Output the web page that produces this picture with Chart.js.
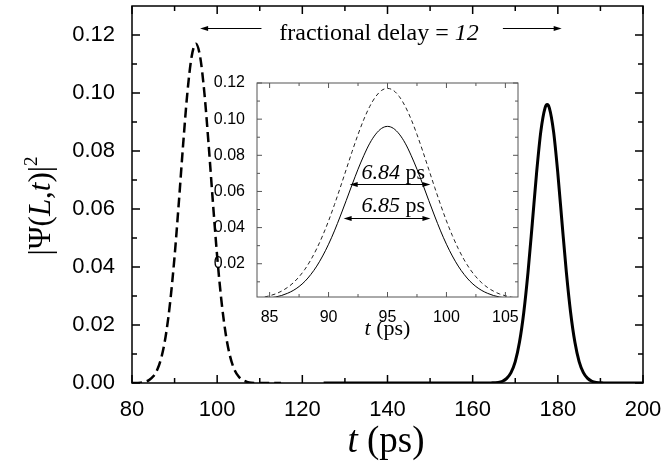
<!DOCTYPE html>
<html>
<head>
  <title>Fractional delay pulses</title>
  <script src="https://cdn.jsdelivr.net/npm/chart.js"></script>
  <style>
    body { margin: 0; background: #fff; }
    #wrap { position: relative; width: 663px; height: 464px; }
    #mainBox { position: absolute; left: 0; top: 0; width: 663px; height: 464px; }
    #insetBox { position: absolute; left: 200px; top: 70px; width: 330px; height: 280px; }
  </style>
</head>
<body>
<div id="wrap">
  <div id="mainBox"><canvas id="mainChart"></canvas></div>
  <div id="insetBox"><canvas id="insetChart"></canvas></div>
</div>

<script>
  // main panel: input pulse (dashed) and delayed output pulse (solid)
  const inputT = [80, 82, 83, 84, 85, 86, 87, 88, 89, 90, 91, 92, 93, 94, 95, 96, 97, 98, 99, 100,
                  101, 102, 103, 104, 105, 106, 107, 108, 110, 115];
  const inputPulse = [0, 0.0001, 0.0004, 0.0010, 0.0023, 0.0048, 0.0094, 0.0170, 0.0284, 0.0437,
                      0.0623, 0.0821, 0.1000, 0.1125, 0.1170, 0.1125, 0.1000, 0.0821, 0.0623, 0.0437,
                      0.0284, 0.0170, 0.0094, 0.0048, 0.0023, 0.0010, 0.0004, 0.0001, 0, 0];
  const outputT = [125, 160, 164, 165, 166, 167, 168, 169, 170, 171, 172, 173, 174, 175, 176, 177, 177.5,
                   178, 179, 180, 181, 182, 183, 184, 185, 186, 187, 188, 189, 190, 191, 200];
  const outputPulse = [0, 0, 0, 0.0001, 0.0002, 0.0006, 0.0016, 0.0036, 0.0074, 0.0141, 0.0243, 0.0382,
                       0.0550, 0.0723, 0.0867, 0.0949, 0.0960, 0.0949, 0.0867, 0.0723, 0.0550, 0.0382,
                       0.0243, 0.0141, 0.0074, 0.0036, 0.0016, 0.0006, 0.0002, 0.0001, 0, 0];
  const mainXTicks = [80, 100, 120, 140, 160, 180, 200];
  const mainXMinor = [90, 110, 130, 150, 170, 190];
  const mainYTicks = [0, 0.02, 0.04, 0.06, 0.08, 0.10, 0.12];
  const mainYMinor = [0.01, 0.03, 0.05, 0.07, 0.09, 0.11];

  // inset: both pulses overlaid on the same time window
  const insetT = [84, 84.5, 85, 85.5, 86, 86.5, 87, 87.5, 88, 88.5, 89, 89.5, 90, 90.5, 91, 91.5,
                  92, 92.5, 93, 93.5, 94, 94.5, 95, 95.5, 96, 96.5, 97, 97.5, 98, 98.5, 99, 99.5,
                  100, 100.5, 101, 101.5, 102, 102.5, 103, 103.5, 104, 104.5, 105, 105.5, 106];
  const insetInput = [0.0010, 0.0015, 0.0023, 0.0033, 0.0048, 0.0068, 0.0094, 0.0128, 0.0170, 0.0222,
                      0.0284, 0.0356, 0.0437, 0.0527, 0.0623, 0.0722, 0.0821, 0.0915, 0.1000, 0.1071,
                      0.1125, 0.1159, 0.1170, 0.1159, 0.1125, 0.1071, 0.1000, 0.0915, 0.0821, 0.0722,
                      0.0623, 0.0527, 0.0437, 0.0356, 0.0284, 0.0222, 0.0170, 0.0128, 0.0094, 0.0068,
                      0.0048, 0.0033, 0.0023, 0.0015, 0.0010];
  const insetOutput = [0.0004, 0.0006, 0.0010, 0.0016, 0.0024, 0.0036, 0.0052, 0.0074, 0.0103, 0.0141,
                       0.0187, 0.0243, 0.0308, 0.0382, 0.0464, 0.0550, 0.0638, 0.0723, 0.0800, 0.0867,
                       0.0917, 0.0949, 0.0960, 0.0949, 0.0917, 0.0867, 0.0800, 0.0723, 0.0638, 0.0550,
                       0.0464, 0.0382, 0.0308, 0.0243, 0.0187, 0.0141, 0.0103, 0.0074, 0.0052, 0.0036,
                       0.0024, 0.0016, 0.0010, 0.0006, 0.0004];
  const insetXTicks = [85, 90, 95, 100, 105];
  const insetXMinor = [87.5, 92.5, 97.5, 102.5];
  const insetYTicks = [0.02, 0.04, 0.06, 0.08, 0.10, 0.12];
  const insetYMinor = [0.01, 0.03, 0.05, 0.07, 0.09, 0.11];

  const sans = "'Liberation Sans', Arial, sans-serif";
  const serif = "'Liberation Serif', 'Times New Roman', serif";

  const pts = (xs, ys) => xs.map((x, i) => ({ x: x, y: ys[i] }));

  // draw a line of text made of runs: [text, style] with style '', 'i' or 'sup'
  function drawRuns(ctx, runs, x, y, size) {
    const fontOf = r => (r[1] === 'i' ? 'italic ' : '') +
      Math.round(r[1] === 'sup' ? size * 0.62 : size) + 'px ' + serif;
    let total = 0;
    runs.forEach(r => { ctx.font = fontOf(r); total += ctx.measureText(r[0]).width; });
    let cx = x - total / 2;
    ctx.textAlign = 'left';
    ctx.textBaseline = 'alphabetic';
    runs.forEach(r => {
      ctx.font = fontOf(r);
      ctx.fillText(r[0], cx, r[1] === 'sup' ? y - size * 0.42 : y);
      cx += ctx.measureText(r[0]).width;
    });
  }

  function head(ctx, tip, y, dir, len, half) {
    ctx.beginPath();
    ctx.moveTo(tip, y);
    ctx.lineTo(tip - dir * len, y - half);
    ctx.lineTo(tip - dir * len, y + half);
    ctx.closePath();
    ctx.fill();
  }

  // box frame with inward ticks on all four sides
  function frameTicks(chart, xMaj, xMin, yMaj, yMin, majLen, minLen, lw, color) {
    const { ctx, chartArea: a, scales: { x, y } } = chart;
    ctx.save();
    ctx.strokeStyle = color;
    ctx.lineWidth = lw;
    ctx.strokeRect(a.left, a.top, a.right - a.left, a.bottom - a.top);
    ctx.beginPath();
    const xt = (v, len) => {
      const p = x.getPixelForValue(v);
      ctx.moveTo(p, a.bottom); ctx.lineTo(p, a.bottom - len);
      ctx.moveTo(p, a.top); ctx.lineTo(p, a.top + len);
    };
    const yt = (v, len) => {
      const p = y.getPixelForValue(v);
      ctx.moveTo(a.left, p); ctx.lineTo(a.left + len, p);
      ctx.moveTo(a.right, p); ctx.lineTo(a.right - len, p);
    };
    xMaj.forEach(v => xt(v, majLen));
    xMin.forEach(v => xt(v, minLen));
    yMaj.forEach(v => yt(v, majLen));
    yMin.forEach(v => yt(v, minLen));
    ctx.stroke();
    ctx.restore();
  }

  // keep the plot box where the reference has it: no label overhang padding
  const fixX = h => s => { s.height = h; s.paddingLeft = 0; s.paddingRight = 0; };
  const fixY = w => s => { s.width = w; s.paddingTop = 0; s.paddingBottom = 0; };

  const mainDecor = {
    id: 'mainDecor',
    afterDraw(chart) {
      frameTicks(chart, mainXTicks, mainXMinor, mainYTicks, mainYMinor, 8, 5, 1.5, '#000');
      const { ctx, scales: { x, y } } = chart;
      ctx.save();
      ctx.fillStyle = '#000';
      ctx.strokeStyle = '#000';
      ctx.lineWidth = 1;

      // fractional delay annotation
      const ay = Math.round(y.getPixelForValue(0.1223)) + 0.5;
      const l1 = x.getPixelForValue(110.4), l2 = x.getPixelForValue(96.0);
      const r1 = x.getPixelForValue(167.1), r2 = x.getPixelForValue(180.9);
      ctx.beginPath();
      ctx.moveTo(l1, ay); ctx.lineTo(l2 + 6, ay);
      ctx.moveTo(r1, ay); ctx.lineTo(r2 - 6, ay);
      ctx.stroke();
      head(ctx, l2, ay, -1, 8, 2.5);
      head(ctx, r2, ay, 1, 8, 2.5);
      drawRuns(ctx, [['fractional delay = ', ''], ['12', 'i']],
        x.getPixelForValue(138.0), y.getPixelForValue(0.1183), 24);

      // axis titles
      drawRuns(ctx, [['t', 'i'], [' (ps)', '']], 386, 452, 37);
      ctx.translate(50, 206);
      ctx.rotate(-Math.PI / 2);
      drawRuns(ctx, [['|\u03A8(', ''], ['L', 'i'], [',', ''], ['t', 'i'], [')|', ''], ['2', 'sup']], 0, 0, 31);
      ctx.restore();
    }
  };

  const insetDecor = {
    id: 'insetDecor',
    beforeDraw(chart) {
      const { ctx, chartArea: a } = chart;
      ctx.save();
      ctx.fillStyle = '#fff';
      ctx.fillRect(a.left, a.top, a.right - a.left, a.bottom - a.top);
      ctx.restore();
    },
    afterDraw(chart) {
      frameTicks(chart, insetXTicks, insetXMinor, insetYTicks, insetYMinor, 5, 3, 1, '#555');
      const { ctx, scales: { x, y } } = chart;
      ctx.save();
      ctx.fillStyle = '#000';
      ctx.strokeStyle = '#000';
      ctx.lineWidth = 1;
      const bars = [
        [0.064, 91.79, 98.64, '6.84', 0.0669],
        [0.0455, 91.28, 98.64, '6.85', 0.0488]
      ];
      bars.forEach(b => {
        const py = Math.round(y.getPixelForValue(b[0])) + 0.5;
        const p1 = x.getPixelForValue(b[1]), p2 = x.getPixelForValue(b[2]);
        ctx.beginPath();
        ctx.moveTo(p1 + 6, py); ctx.lineTo(p2 - 6, py);
        ctx.stroke();
        head(ctx, p1, py, -1, 8, 2.5);
        head(ctx, p2, py, 1, 8, 2.5);
        drawRuns(ctx, [[b[3], 'i'], [' ps', '']], x.getPixelForValue(95.5), y.getPixelForValue(b[4]), 22);
      });
      const a = chart.chartArea;
      drawRuns(ctx, [['t', 'i'], [' (ps)', '']], (a.left + a.right) / 2, a.bottom + 38, 22);
      ctx.restore();
    }
  };

  new Chart(document.getElementById('mainChart'), {
    type: 'line',
    data: {
      datasets: [
        {
          data: pts(inputT, inputPulse),
          borderColor: '#000',
          borderWidth: 2.5,
          borderDash: [10, 5],
          pointRadius: 0,
          cubicInterpolationMode: 'monotone'
        },
        {
          data: pts(outputT, outputPulse),
          borderColor: '#000',
          borderWidth: 3,
          pointRadius: 0,
          cubicInterpolationMode: 'monotone'
        }
      ]
    },
    options: {
      responsive: true,
      maintainAspectRatio: false,
      animation: false,
      layout: { padding: { left: 0, top: 6, right: 20, bottom: 0 } },
      plugins: { legend: { display: false }, tooltip: { enabled: false } },
      scales: {
        x: {
          type: 'linear', min: 80, max: 200,
          grid: { display: false }, border: { display: false },
          afterBuildTicks: s => { s.ticks = mainXTicks.map(v => ({ value: v })); },
          afterFit: fixX(81),
          ticks: { color: '#000', font: { family: sans, size: 22 }, padding: 6, maxRotation: 0, autoSkip: false }
        },
        y: {
          min: 0, max: 0.13,
          grid: { display: false }, border: { display: false },
          afterBuildTicks: s => { s.ticks = mainYTicks.map(v => ({ value: v })); },
          afterFit: fixY(132),
          ticks: { color: '#000', font: { family: sans, size: 22 }, padding: 9, autoSkip: false,
                   callback: v => v.toFixed(2) }
        }
      }
    },
    plugins: [mainDecor]
  });

  new Chart(document.getElementById('insetChart'), {
    type: 'line',
    data: {
      datasets: [
        {
          data: pts(insetT, insetInput),
          borderColor: '#222',
          borderWidth: 1,
          borderDash: [4, 3],
          pointRadius: 0,
          cubicInterpolationMode: 'monotone'
        },
        {
          data: pts(insetT, insetOutput),
          borderColor: '#000',
          borderWidth: 1,
          pointRadius: 0,
          cubicInterpolationMode: 'monotone'
        }
      ]
    },
    options: {
      responsive: true,
      maintainAspectRatio: false,
      animation: false,
      layout: { padding: { left: 0, top: 13, right: 12, bottom: 0 } },
      plugins: { legend: { display: false }, tooltip: { enabled: false } },
      scales: {
        x: {
          type: 'linear', min: 83.93, max: 106.07,
          grid: { display: false }, border: { display: false },
          afterBuildTicks: s => { s.ticks = insetXTicks.map(v => ({ value: v })); },
          afterFit: fixX(53),
          ticks: { color: '#000', font: { family: sans, size: 16 }, padding: 3, maxRotation: 0, autoSkip: false }
        },
        y: {
          min: 0.0016, max: 0.12,
          grid: { display: false }, border: { display: false },
          afterBuildTicks: s => { s.ticks = insetYTicks.map(v => ({ value: v })); },
          afterFit: fixY(57),
          ticks: { color: '#000', font: { family: sans, size: 16 }, padding: 4, autoSkip: false,
                   callback: v => v.toFixed(2) }
        }
      }
    },
    plugins: [insetDecor]
  });
</script>
</body>
</html>
